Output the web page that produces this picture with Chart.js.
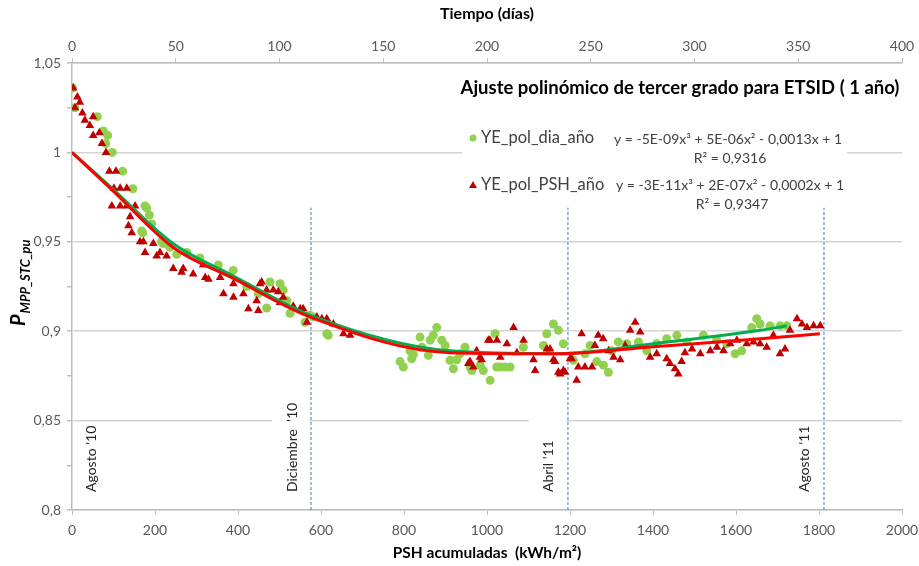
<!DOCTYPE html>
<html>
<head>
<meta charset="utf-8">
<script src="https://cdn.jsdelivr.net/npm/chart.js@4"></script>
<style>
  html, body { margin: 0; padding: 0; background: #fff; }
  #wrap { width: 919px; height: 566px; }
</style>
</head>
<body>
<div id="wrap"><canvas id="myChart" width="919" height="566"></canvas></div>
<script>
// red triangles: accumulated PSH (kWh/m2) vs P
const redPSH = [3,7,13,19,25,31,43,51,51,66,72,82,90,96,101,106,116,116,132,132,136,140,144,152,164,172,176,196,204,212,228,244,264,268,292,316,321,329,357,365,389,389,413,425,445,449,453,457,469,485,497,501,509,533,550,557,566,590,602,614,630,654,670,955,959,967,975,983,987,1003,1007,1024,1032,1048,1064,1072,1088,1112,1116,1144,1152,1160,1164,1172,1176,1184,1188,1200,1204,1216,1220,1228,1236,1253,1260,1268,1280,1293,1305,1321,1333,1345,1357,1369,1393,1409,1433,1441,1453,1461,1469,1477,1494,1514,1538,1554,1570,1586,1602,1626,1642,1658,1674,1690,1706,1718,1730,1747,1759,1771,1787,1803];
const redP   = [1.036,1.025,1.031,1.028,1.022,1.018,1.015,1.020,1.0095,1.011,1.005,1.0,0.9895,0.97,0.98,0.9895,0.98,0.97,0.98,0.97,0.959,0.964,0.955,0.97,0.95,0.95,0.944,0.949,0.942,0.944,0.942,0.935,0.933,0.935,0.932,0.937,0.930,0.929,0.930,0.921,0.9266,0.919,0.921,0.9125,0.917,0.9116,0.9266,0.9275,0.923,0.923,0.922,0.916,0.919,0.914,0.9125,0.9125,0.905,0.908,0.907,0.907,0.904,0.8986,0.8977,0.882,0.883,0.880,0.889,0.8855,0.884,0.895,0.895,0.895,0.8855,0.893,0.902,0.888,0.895,0.884,0.878,0.890,0.890,0.884,0.883,0.877,0.876,0.878,0.877,0.8846,0.8846,0.8725,0.880,0.8986,0.880,0.880,0.892,0.8977,0.8958,0.889,0.8855,0.884,0.892,0.9005,0.905,0.8996,0.8855,0.8874,0.8846,0.882,0.879,0.876,0.883,0.888,0.890,0.8874,0.889,0.891,0.889,0.893,0.895,0.893,0.894,0.893,0.891,0.8977,0.8874,0.890,0.9005,0.907,0.904,0.902,0.903,0.903];

// green circles: days vs P
const greenDays = [0.3,1.4,12.2,15.1,16.2,17.2,19.4,24.4,29.3,33.6,34.1,35.2,36,37.3,38.4,43.2,44,47.2,50.5,55.3,61.7,70.5,77.7,84.2,89.8,93.8,95.4,100.3,101.8,103.5,105.1,112.3,114.7,116.3,122.8,123.5,158.1,159.7,162.9,163.7,164.5,167.7,168.6,171.7,172.6,174.1,175.8,178.2,179.8,182.2,183.8,185.4,187,189.4,191.8,192.7,196.7,198.2,201.5,203.9,204.7,206.3,208.7,211.1,217.5,227.2,228.8,232,234.4,236.8,241.6,247.3,249.7,252.9,256.1,258.5,260.1,263.3,267.4,273,277,281.8,286.6,291.5,296.3,304.3,310.7,315.6,319.6,322.8,327.6,330,331.6,336.4,341.3,344.5];
const greenP    = [1.036,1.025,1.020,1.012,1.005,1.0095,1.0,0.9895,0.9797,0.956,0.955,0.970,0.969,0.965,0.960,0.950,0.949,0.947,0.943,0.944,0.941,0.937,0.934,0.925,0.921,0.913,0.9275,0.9266,0.923,0.917,0.910,0.905,0.909,0.908,0.8986,0.8977,0.883,0.880,0.889,0.8846,0.887,0.8967,0.891,0.8865,0.895,0.8977,0.902,0.895,0.892,0.8837,0.879,0.884,0.8874,0.891,0.880,0.878,0.881,0.878,0.8725,0.8986,0.880,0.880,0.880,0.880,0.891,0.892,0.8986,0.904,0.9005,0.893,0.8837,0.8874,0.892,0.883,0.881,0.877,0.889,0.894,0.893,0.894,0.889,0.893,0.8958,0.8977,0.894,0.8977,0.895,0.893,0.8874,0.889,0.902,0.907,0.904,0.903,0.903,0.903];

// trend curves
const redTrendPSH = [0,92,243,389,573,911,1176,1400,1658,1802];
const redTrendP   = [1.0,0.980,0.947,0.9295,0.908,0.888,0.8874,0.8913,0.8958,0.8986];
const greenTrendDays = [0,18.3,48.7,77.6,114.7,182.2,235.2,280,331.6,344.5];
const greenTrendP    = [1.0,0.981,0.949,0.931,0.909,0.889,0.8874,0.893,0.9005,0.903];

// month markers
const monthLabels = ["Agosto '10", "Diciembre  '10", "Abril '11", "Agosto '11"];
const monthPSH = [0, 576, 1195, 1812];
const markerTopP = 0.969;

const pshTicks = [0, 200, 400, 600, 800, 1000, 1200, 1400, 1600, 1800, 2000];
const dayTicks = [0, 50, 100, 150, 200, 250, 300, 350, 400];
const pTicks = [0.8, 0.85, 0.9, 0.95, 1, 1.05];

const chartTitle = 'Ajuste polinómico de tercer grado para ETSID ( 1 año)';
const legendNames = ['YE_pol_dia_año', 'YE_pol_PSH_año'];
const legendEq = ['y = -5E-09x³ + 5E-06x² - 0,0013x + 1', 'y = -3E-11x³ + 2E-07x² - 0,0002x + 1'];
const legendR2 = ['R² = 0,9316', 'R² = 0,9347'];

const FONT = 'Lato, "Open Sans", sans-serif';
const GREEN = '#92d050', RED = '#c00000';

const toXY = (xs, ys) => xs.map((x, i) => ({ x: x, y: ys[i] }));

const markerSets = monthPSH.slice(1).map(v => ({
  type: 'line',
  data: [{ x: v, y: pTicks[0] }, { x: v, y: markerTopP }],
  xAxisID: 'x',
  borderColor: '#5b8fd6',
  borderWidth: 1.2,
  borderDash: [3, 2],
  pointRadius: 0,
  order: 4
}));

const extras = {
  id: 'extras',
  beforeDatasetsDraw(chart) {
    const ctx = chart.ctx, xs = chart.scales.x, ys = chart.scales.y;
    ctx.save();
    ctx.fillStyle = '#fff';
    // legend box hides the gridline
    ctx.fillRect(462, 122, 385, 90);
    // label boxes for the month texts crossing the 0,85 line
    [1, 2].forEach(i => {
      const px = xs.getPixelForValue(monthPSH[i]);
      ctx.fillRect(px - 39, ys.getPixelForValue(0.86), 37, 30);
    });
    ctx.restore();
  },
  afterDraw(chart) {
    const ctx = chart.ctx, xs = chart.scales.x;
    ctx.save();
    // month labels, rotated
    ctx.fillStyle = '#262626';
    ctx.font = '14px ' + FONT;
    ctx.textBaseline = 'middle';
    ctx.textAlign = 'left';
    monthLabels.forEach((t, i) => {
      const px = xs.getPixelForValue(monthPSH[i]) + (i === 0 ? 19 : -19);
      ctx.save();
      ctx.translate(px, 492);
      ctx.rotate(-Math.PI / 2);
      ctx.fillText(t, 0, 0);
      ctx.restore();
    });

    // title
    ctx.fillStyle = '#000';
    ctx.font = 'bold 18.5px ' + FONT;
    ctx.textAlign = 'center';
    ctx.fillText(chartTitle, 680, 88);

    // legend
    ctx.fillStyle = GREEN;
    ctx.beginPath(); ctx.arc(473, 138, 3.5, 0, Math.PI * 2); ctx.fill();
    ctx.fillStyle = RED;
    ctx.beginPath(); ctx.moveTo(473, 181); ctx.lineTo(477, 188); ctx.lineTo(469, 188); ctx.closePath(); ctx.fill();
    ctx.fillStyle = '#404040';
    ctx.font = '16.5px ' + FONT;
    ctx.textAlign = 'left';
    ctx.fillText(legendNames[0], 481, 138);
    ctx.fillText(legendNames[1], 481, 185);
    ctx.textAlign = 'center';
    ctx.font = '14px ' + FONT;
    ctx.fillText(legendEq[0], 728, 139);
    ctx.fillText(legendR2[0], 730, 158);
    ctx.fillText(legendEq[1], 730, 185);
    ctx.fillText(legendR2[1], 732, 204);

    // y axis title P with subscript
    ctx.save();
    ctx.translate(25, 326);
    ctx.rotate(-Math.PI / 2);
    ctx.fillStyle = '#000';
    ctx.textAlign = 'left';
    ctx.textBaseline = 'alphabetic';
    ctx.font = 'bold italic 20px ' + FONT;
    ctx.fillText('P', 0, 0);
    const w = ctx.measureText('P').width;
    ctx.font = 'bold italic 13px ' + FONT;
    ctx.fillText('MPP_STC_pu', w + 1, 5);
    ctx.restore();
    ctx.restore();
  }
};

const fitX = h => s => { s.height = h; s.paddingLeft = 0; s.paddingRight = 0; };

new Chart(document.getElementById('myChart').getContext('2d'), {
  type: 'scatter',
  data: {
    datasets: [
      {
        type: 'line', label: 'trend_dia', data: toXY(greenTrendDays, greenTrendP), xAxisID: 'xTop',
        borderColor: '#00b050', borderWidth: 3, pointRadius: 0, cubicInterpolationMode: 'monotone', order: 1
      },
      {
        type: 'line', label: 'trend_psh', data: toXY(redTrendPSH, redTrendP), xAxisID: 'x',
        borderColor: '#ff0000', borderWidth: 3, pointRadius: 0, cubicInterpolationMode: 'monotone', order: 0
      },
      {
        label: legendNames[1], data: toXY(redPSH, redP), xAxisID: 'x',
        pointStyle: 'triangle', pointRadius: 5, backgroundColor: RED, borderColor: RED, borderWidth: 0, order: 2
      },
      {
        label: legendNames[0], data: toXY(greenDays, greenP), xAxisID: 'xTop',
        pointStyle: 'circle', pointRadius: 4.5, backgroundColor: GREEN, borderColor: GREEN, borderWidth: 0, order: 3
      },
      ...markerSets
    ]
  },
  options: {
    responsive: false,
    animation: false,
    layout: { padding: { left: 0, right: 17, top: 0, bottom: 0 } },
    plugins: { legend: { display: false }, tooltip: { enabled: false } },
    scales: {
      x: {
        type: 'linear', position: 'bottom', min: pshTicks[0], max: pshTicks[pshTicks.length - 1],
        afterBuildTicks: s => { s.ticks = pshTicks.map(v => ({ value: v })); },
        afterFit: fitX(56),
        border: { color: '#bfbfbf', width: 1.5 },
        grid: { drawOnChartArea: false, tickLength: 5, color: '#bfbfbf' },
        ticks: { color: '#595959', font: { family: FONT, size: 14 }, padding: 7, maxRotation: 0, callback: v => String(v) },
        title: { display: true, text: 'PSH acumuladas  (kWh/m²)', color: '#000', font: { family: FONT, size: 15.5, weight: 'bold' }, padding: { top: 0 } }
      },
      xTop: {
        type: 'linear', position: 'top', min: dayTicks[0], max: dayTicks[dayTicks.length - 1],
        afterBuildTicks: s => { s.ticks = dayTicks.map(v => ({ value: v })); },
        afterFit: fitX(63),
        border: { color: '#bfbfbf', width: 1.5 },
        grid: { drawOnChartArea: false, tickLength: 5, color: '#bfbfbf' },
        ticks: { color: '#595959', font: { family: FONT, size: 14 }, padding: 3, maxRotation: 0, callback: v => String(v) },
        title: { display: true, text: 'Tiempo (días)', color: '#000', font: { family: FONT, size: 16, weight: 'bold' }, padding: { bottom: 4 } }
      },
      y: {
        type: 'linear', min: pTicks[0], max: pTicks[pTicks.length - 1],
        afterBuildTicks: s => {
          const t = [];
          for (let i = 0; i < pTicks.length; i++) {
            t.push({ value: pTicks[i] });
            if (i < pTicks.length - 1) t.push({ value: Math.round((pTicks[i] + 0.025) * 1000) / 1000, minor: true });
          }
          s.ticks = t;
        },
        afterFit: s => { s.width = 72; s.paddingTop = 0; s.paddingBottom = 0; },
        border: { color: '#bfbfbf', width: 1.5 },
        grid: {
          color: c => (c.tick && pTicks.includes(c.tick.value)) ? '#d4d4d4' : 'rgba(0,0,0,0)',
          tickColor: '#bfbfbf',
          lineWidth: 1.5,
          tickLength: 5
        },
        ticks: {
          color: '#595959', font: { family: FONT, size: 14 }, padding: 6,
          callback: v => pTicks.includes(Math.round(v * 1000) / 1000) ? String(Math.round(v * 1000) / 1000).replace('.', ',') : ''
        }
      }
    }
  },
  plugins: [extras]
});
</script>
</body>
</html>
